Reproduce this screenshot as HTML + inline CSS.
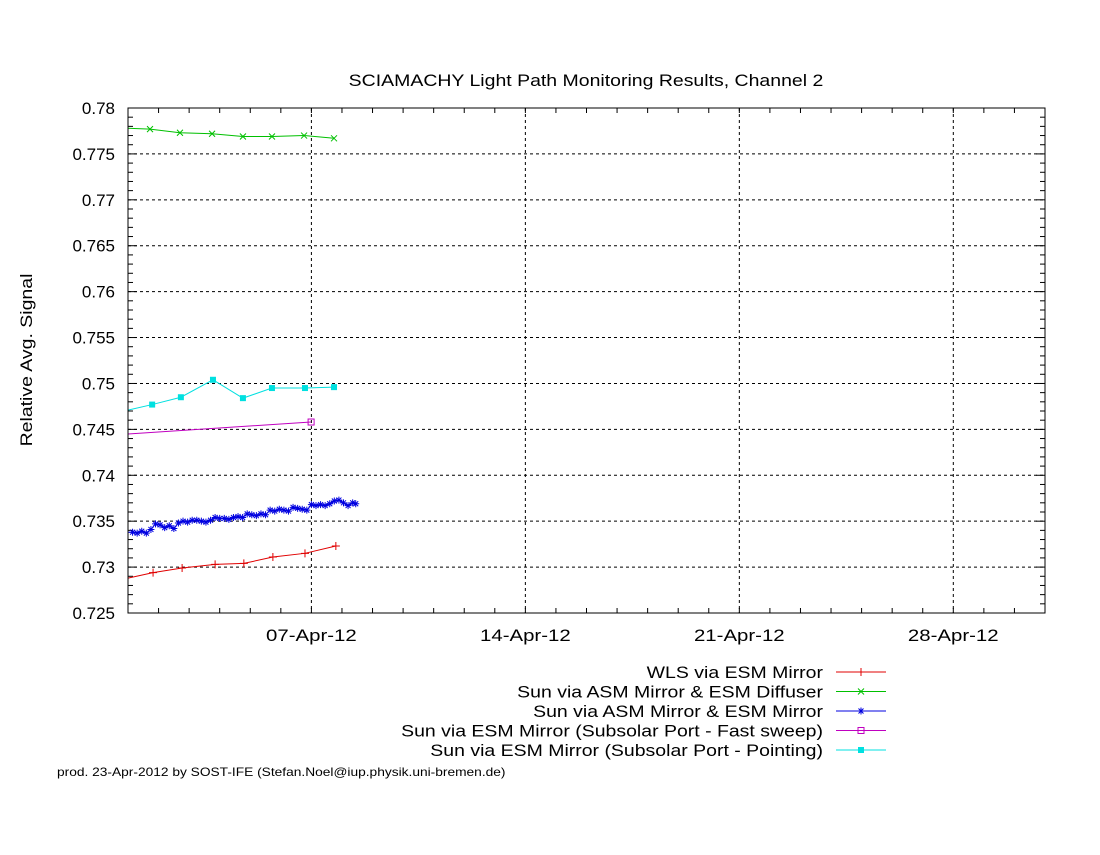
<!DOCTYPE html>
<html><head><meta charset="utf-8"><style>
body{margin:0;background:#fff}
svg text{font-family:"Liberation Sans",sans-serif}
</style></head><body>
<svg id="c" width="1100" height="850" xmlns="http://www.w3.org/2000/svg">
<rect width="1100" height="850" fill="#fff"/>
<text class="wide" x="586" y="86" font-size="17" text-anchor="middle">SCIAMACHY Light Path Monitoring Results, Channel 2</text>
<text class="wide" transform="translate(32,360) rotate(-90)" font-size="17" text-anchor="middle">Relative Avg. Signal</text>
<text class="wide" x="57" y="776" font-size="12">prod. 23-Apr-2012 by SOST-IFE (Stefan.Noel@iup.physik.uni-bremen.de)</text>
<g id="grid"></g><g id="ticks"></g><g id="series"></g><g id="legend"></g>
<rect x="128" y="108" width="917" height="505" fill="none" stroke="#000" stroke-width="1"/>
</svg>
<script>
const yTicks=[0.725,0.73,0.735,0.74,0.745,0.75,0.755,0.76,0.765,0.77,0.775,0.78];
const yTickLabels=["0.725","0.73","0.735","0.74","0.745","0.75","0.755","0.76","0.765","0.77","0.775","0.78"];
const xTickDays=[6,13,20,27];
const xTickLabels=["07-Apr-12","14-Apr-12","21-Apr-12","28-Apr-12"];
const seriesNames=["WLS via ESM Mirror","Sun via ASM Mirror & ESM Diffuser","Sun via ASM Mirror & ESM Mirror","Sun via ESM Mirror (Subsolar Port - Fast sweep)","Sun via ESM Mirror (Subsolar Port - Pointing)"];
const redDays=[0,0.82,1.77,2.85,3.79,4.74,5.79,6.8];
const redVals=[0.7288,0.7294,0.7299,0.7303,0.7304,0.7311,0.7315,0.7323];
const greenDays=[0,0.72,1.7,2.75,3.76,4.71,5.76,6.74];
const greenVals=[0.7778,0.7777,0.7773,0.7772,0.7769,0.7769,0.7770,0.7767];
const blueDays=[0,0.15,0.3,0.45,0.6,0.75,0.9,1.05,1.2,1.35,1.5,1.65,1.8,1.95,2.1,2.25,2.4,2.55,2.7,2.85,3.0,3.15,3.3,3.45,3.6,3.75,3.9,4.05,4.2,4.35,4.5,4.65,4.8,4.95,5.1,5.25,5.4,5.55,5.7,5.85,6.0,6.15,6.3,6.45,6.6,6.75,6.9,7.05,7.2,7.35,7.45];
const blueVals=[0.7338,0.7338,0.7337,0.7339,0.7337,0.7341,0.7347,0.7346,0.7343,0.7345,0.7342,0.7348,0.7350,0.7349,0.7351,0.7351,0.7350,0.7349,0.7351,0.7354,0.7353,0.7353,0.7352,0.7354,0.7355,0.7354,0.7358,0.7357,0.7356,0.7358,0.7357,0.7362,0.7361,0.7363,0.7362,0.7361,0.7365,0.7364,0.7363,0.7362,0.7368,0.7367,0.7368,0.7367,0.7369,0.7372,0.7373,0.7370,0.7367,0.7370,0.7369];
const magDays=[0,5.99];
const magVals=[0.7445,0.7458];
const cyanDays=[0,0.79,1.73,2.78,3.76,4.71,5.79,6.74];
const cyanVals=[0.7471,0.7477,0.7485,0.7504,0.7484,0.7495,0.7495,0.7496];

const L=128,R=1045,T=108,B=613,dMin=0,dMax=30,vMin=0.725,vMax=0.78;
const NS="http://www.w3.org/2000/svg";
function X(d){return L+(d-dMin)/(dMax-dMin)*(R-L);}
function Y(v){return B-(v-vMin)/(vMax-vMin)*(B-T);}
function mk(tag,attrs,parent){const e=document.createElementNS(NS,tag);for(const k in attrs)e.setAttribute(k,attrs[k]);parent.appendChild(e);return e;}
const grid=document.getElementById('grid'),ticks=document.getElementById('ticks'),ser=document.getElementById('series'),leg=document.getElementById('legend');
yTicks.forEach((v,i)=>{
  const y=Y(v);
  if(i>0&&i<yTicks.length-1){const g=mk('line',{x1:L,x2:R,y1:y,y2:y,stroke:'#000','stroke-dasharray':'3,3','stroke-width':1},grid);
  
  }
  mk('line',{x1:L,x2:L+9,y1:y,y2:y,stroke:'#000'},ticks);
  mk('line',{x1:R-9,x2:R,y1:y,y2:y,stroke:'#000'},ticks);
  const t=mk('text',{x:115,y:y+6,'font-size':17,'text-anchor':'end'},ticks);t.textContent=yTickLabels[i];
  
  
  if(i<yTicks.length-1)for(let k=1;k<5;k++){const yy=Y(v+k*0.001);mk('line',{x1:L,x2:L+5,y1:yy,y2:yy,stroke:'#000'},ticks);mk('line',{x1:R-5,x2:R,y1:yy,y2:yy,stroke:'#000'},ticks);}
});
for(let d=1;d<30;d++){const x=X(d);mk('line',{x1:x,x2:x,y1:B,y2:B-5,stroke:'#000'},ticks);mk('line',{x1:x,x2:x,y1:T,y2:T+5,stroke:'#000'},ticks);}
xTickDays.forEach((d,i)=>{
  const x=X(d);
  const g=mk('line',{x1:x,x2:x,y1:T,y2:B,stroke:'#000','stroke-dasharray':'3,3'},grid);
  
  
  const t=mk('text',{x:x,y:641,'font-size':17,'text-anchor':'middle','class':'xwide'},ticks);t.textContent=xTickLabels[i];
  
  
});
function marker(type,x,y,c,p){
  if(type==='+'){mk('path',{d:`M${x-4} ${y}H${x+4}M${x} ${y-4}V${y+4}`,stroke:c,fill:'none'},p);}
  else if(type==='x'){mk('path',{d:`M${x-3} ${y-3}L${x+3} ${y+3}M${x-3} ${y+3}L${x+3} ${y-3}`,stroke:c,fill:'none'},p);}
  else if(type==='*'){mk('path',{d:`M${x-3.5} ${y}H${x+3.5}M${x} ${y-3.5}V${y+3.5}M${x-2.5} ${y-2.5}L${x+2.5} ${y+2.5}M${x-2.5} ${y+2.5}L${x+2.5} ${y-2.5}`,stroke:c,fill:'none'},p);}
  else if(type==='os'){mk('rect',{x:x-3,y:y-3,width:6,height:6,stroke:c,fill:'none'},p);}
  else if(type==='fs'){mk('rect',{x:x-3,y:y-3,width:6,height:6,fill:c},p);}
}
const defs=[[redDays,redVals,'#e00000','+','series-wls-esm-mirror'],
 [greenDays,greenVals,'#00c000','x','series-asm-esm-diffuser'],
 [blueDays,blueVals,'#0000e0','*','series-asm-esm-mirror'],
 [magDays,magVals,'#c000c0','os','series-subsolar-fast-sweep'],
 [cyanDays,cyanVals,'#00e0e0','fs','series-subsolar-pointing']];
defs.forEach(([ds,vs,c,m,name],i)=>{
  const g=mk('g',{},ser);
  
  
  mk('polyline',{points:ds.map((d,j)=>X(d)+','+Y(vs[j])).join(' '),fill:'none',stroke:c,'stroke-width':1},g);
  ds.forEach((d,j)=>{if(m==='os'&&j===0)return;if(j===0&&X(d)<=L)return;marker(m,X(d),Y(vs[j]),c,g);});
  const ly=672+i*19.5;
  const lg=mk('g',{},leg);
  
  
  const t=mk('text',{x:823,y:ly+6,'font-size':17,'text-anchor':'end','class':'wide'},lg);t.textContent=seriesNames[i];
  mk('line',{x1:836,x2:886,y1:ly,y2:ly,stroke:c},lg);
  marker(m,861,ly,c,lg);
});
document.querySelectorAll('text.wide').forEach(t=>{const w=t.getComputedTextLength();t.setAttribute('textLength',(w*1.145).toFixed(1));t.setAttribute('lengthAdjust','spacingAndGlyphs');});
document.querySelectorAll('text.xwide').forEach(t=>{const w=t.getComputedTextLength();t.setAttribute('textLength',(w*1.2).toFixed(1));t.setAttribute('lengthAdjust','spacingAndGlyphs');});
</script>
</body></html>
